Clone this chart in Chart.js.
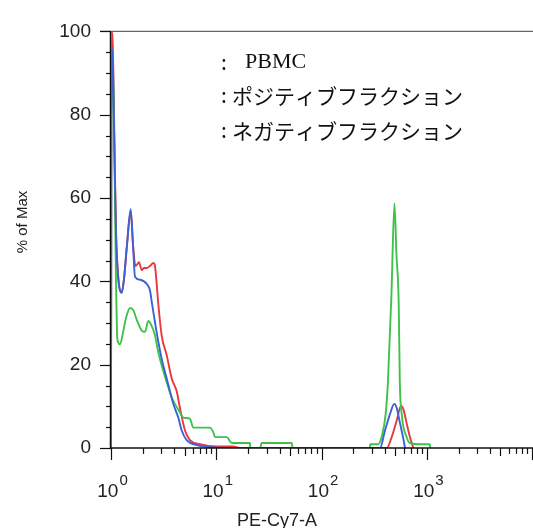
<!DOCTYPE html>
<html>
<head>
<meta charset="utf-8">
<script src="https://cdn.jsdelivr.net/npm/chart.js@4.4.0/dist/chart.umd.min.js"></script>
<style>
  html, body { margin: 0; padding: 0; background: #fff; }
  #wrap { width: 533px; height: 528px; }
</style>
</head>
<body>
<div id="wrap"><canvas id="chart" width="533" height="528"></canvas></div>
<script>
// histogram data (PE-Cy7-A value, % of Max)
const xRed = [1, 1.011, 1.045, 1.080, 1.116, 1.166, 1.264, 1.329, 1.419, 1.538, 1.618, 1.709, 1.777, 1.845, 1.957, 2.058, 2.183, 2.346, 2.522, 2.617, 2.716, 2.795, 3.030, 3.381, 3.771, 4.207, 4.519, 5.043, 5.625, 7.0, 10.09, 14.41, 16.8, 415, 463, 517, 568, 597, 643, 691, 743];
const yRed = [0, 100, 94.6, 72.3, 52.3, 41.8, 37.3, 40.6, 48.8, 56.8, 48.8, 43.7, 44.1, 44.6, 42.7, 43.2, 43.2, 43.7, 44.4, 43.7, 39.4, 35.4, 27.0, 22.3, 16.7, 13.6, 9.6, 4.2, 1.9, 0.9, 0.35, 0.35, 0, 0, 2.6, 6.6, 10.1, 9.4, 5.9, 2.6, 0];

const xBlue = [1, 1.011, 1.045, 1.080, 1.116, 1.166, 1.264, 1.329, 1.419, 1.538, 1.618, 1.690, 1.886, 2.183, 2.346, 2.450, 2.716, 3.030, 3.381, 3.905, 4.356, 4.691, 5.234, 6.513, 8.71, 12.1, 359, 400, 447, 490, 517, 556, 597, 620];
const yBlue = [0, 95.8, 91.1, 70.0, 51.2, 41.3, 37.3, 40.6, 48.8, 57.3, 48.8, 41.1, 40.4, 39.4, 37.8, 34.7, 27.7, 21.4, 16.7, 10.6, 7.3, 4.2, 1.9, 0.7, 0.2, 0, 0, 4.2, 8.2, 10.6, 9.6, 5.9, 2.3, 0];

const xGreen = [1, 1.011, 1.033, 1.068, 1.091, 1.116, 1.140, 1.166, 1.218, 1.300, 1.388, 1.515, 1.628, 1.754, 1.957, 2.103, 2.261, 2.435, 2.617, 2.814, 3.257, 3.795, 4.519, 4.860, 5.625, 6.047, 8.71, 9.365, 9.72, 12.56, 14.0, 20.9, 21.0, 26.0, 27.0, 52.0, 53.2, 288, 289, 345, 372, 406, 427, 461, 492, 514, 540, 553, 576, 643, 691, 859, 1070, 1072];
const yGreen = [0, 95.8, 94.6, 77.0, 59.9, 39.4, 27.7, 25.4, 24.9, 27.7, 31.2, 33.6, 33.1, 30.8, 28.2, 27.9, 30.5, 29.3, 27.0, 23.0, 17.1, 12.0, 8.5, 7.3, 7.0, 4.9, 4.9, 3.8, 2.6, 2.6, 1.2, 1.2, 0, 0, 1.2, 1.2, 0, 0, 0.9, 0.9, 2.7, 8.2, 16.0, 37.1, 58.7, 46.5, 34.7, 16.0, 8.2, 2.6, 1.2, 0.9, 0.9, 0];

// axes / labels
const xExponents = [0, 1, 2, 3];
const yTickValues = [0, 20, 40, 60, 80, 100];
const legendNames = ['PBMC', 'ポジティブフラクション', 'ネガティブフラクション'];
const xTitle = 'PE-Cy7-A';
const yTitle = '% of Max';

const sans = '"Liberation Sans", Arial, sans-serif';
const jp = '"Noto Sans CJK JP", sans-serif';

function toPoints(xs, ys) {
    return xs.map((x, i) => ({ x: x, y: ys[i] }));
}

// axis lines, tick marks, superscript labels, titles and the text legend
const decor = {
    id: 'decor',
    beforeDatasetsDraw(chart) {
        const { ctx, chartArea: a } = chart;
        ctx.save();
        ctx.strokeStyle = '#111';
        ctx.lineWidth = 1.5;
        ctx.beginPath();
        ctx.moveTo(a.left - 0.5, a.top);
        ctx.lineTo(a.left - 0.5, a.bottom);
        ctx.stroke();
        ctx.strokeStyle = '#666';
        ctx.lineWidth = 1.2;
        ctx.beginPath();
        ctx.moveTo(a.left - 11, a.top);
        ctx.lineTo(a.right, a.top);
        ctx.stroke();
        ctx.restore();
    },
    afterDatasetsDraw(chart) {
        const { ctx, chartArea: a, scales: { x, y } } = chart;
        ctx.save();
        ctx.strokeStyle = '#111';
        ctx.lineWidth = 1.5;
        ctx.beginPath();
        ctx.moveTo(a.left, a.bottom);
        ctx.lineTo(a.right, a.bottom);
        ctx.stroke();

        // y ticks: major every 20, minor every 5
        ctx.lineWidth = 1.2;
        for (let v = 0; v <= 100; v += 5) {
            const py = Math.round(y.getPixelForValue(v)) + 0.5;
            const len = yTickValues.includes(v) ? 11 : 5;
            ctx.beginPath();
            ctx.moveTo(a.left - len, py);
            ctx.lineTo(a.left, py);
            ctx.stroke();
        }

        // x ticks: log decades with minor 2..9
        for (let d = 0; d <= 4; d++) {
            for (let m = 1; m <= 9; m++) {
                const v = m * Math.pow(10, d);
                if (v > x.max) continue;
                const px = Math.round(x.getPixelForValue(v)) + 0.5;
                const len = m === 1 ? 12 : (m === 5 ? 8 : 6);
                ctx.beginPath();
                ctx.moveTo(px, a.bottom);
                ctx.lineTo(px, a.bottom + len);
                ctx.stroke();
            }
        }

        // x tick labels 10^n
        ctx.fillStyle = '#222';
        ctx.textAlign = 'left';
        ctx.textBaseline = 'alphabetic';
        const bigFont = '19px ' + sans;
        const supFont = '15px ' + sans;
        xExponents.forEach(e => {
            const px = x.getPixelForValue(Math.pow(10, e));
            ctx.font = bigFont;
            const wb = ctx.measureText('10').width;
            ctx.font = supFont;
            const ws = ctx.measureText(String(e)).width;
            const start = px + 1 - (wb + ws) / 2;
            ctx.font = bigFont;
            ctx.fillText('10', start, a.bottom + 49);
            ctx.font = supFont;
            ctx.fillText(String(e), start + wb + 1, a.bottom + 37);
        });

        // axis titles
        ctx.font = '18px ' + sans;
        ctx.textAlign = 'center';
        ctx.fillText(xTitle, 277, 526);
        ctx.save();
        ctx.translate(23, 222);
        ctx.rotate(-Math.PI / 2);
        ctx.font = '15px ' + sans;
        ctx.textBaseline = 'middle';
        ctx.fillText(yTitle, 0, 0);
        ctx.restore();

        // legend text (no markers)
        ctx.fillStyle = '#111';
        ctx.textAlign = 'left';
        ctx.textBaseline = 'middle';
        ctx.font = '21px ' + jp;
        ctx.fillText(':', 221, 62);
        ctx.fillText(':', 221, 95);
        ctx.fillText(':', 221, 130);
        ctx.textBaseline = 'alphabetic';
        ctx.font = '22px "Liberation Serif", "Times New Roman", serif';
        ctx.fillText(legendNames[0], 245, 68);
        ctx.textBaseline = 'middle';
        ctx.font = '21px ' + jp;
        ctx.fillText(legendNames[1], 232, 96);
        ctx.fillText(legendNames[2], 232, 131);
        ctx.restore();
    }
};

const ctx = document.getElementById('chart').getContext('2d');
const chart = new Chart(ctx, {
    type: 'scatter',
    data: {
        datasets: [
            { label: legendNames[2], data: toPoints(xBlue, yBlue), borderColor: '#3a62d4' },
            { label: legendNames[1], data: toPoints(xGreen, yGreen), borderColor: '#3fc24a' },
            { label: legendNames[0], data: toPoints(xRed, yRed), borderColor: '#e8383d' }
        ]
    },
    options: {
        responsive: false,
        animation: false,
        showLine: true,
        layout: { padding: { top: 22, right: 0, bottom: 0, left: 0 } },
        elements: {
            point: { radius: 0, hoverRadius: 0 },
            line: { borderWidth: 1.9, cubicInterpolationMode: 'monotone', fill: false }
        },
        plugins: {
            legend: { display: false },
            tooltip: { enabled: false }
        },
        scales: {
            x: {
                type: 'logarithmic',
                min: 1,
                max: 10180,
                ticks: { display: false },
                grid: { display: false, drawTicks: false },
                border: { display: false },
                afterFit: s => { s.height = 80; }
            },
            y: {
                min: 0,
                max: 100,
                ticks: {
                    stepSize: 20,
                    color: '#222',
                    padding: 20,
                    font: { family: sans, size: 19 }
                },
                grid: { display: false, drawTicks: false },
                border: { display: false },
                afterFit: s => { s.width = 111; }
            }
        }
    },
    plugins: [decor]
});
</script>
</body>
</html>
